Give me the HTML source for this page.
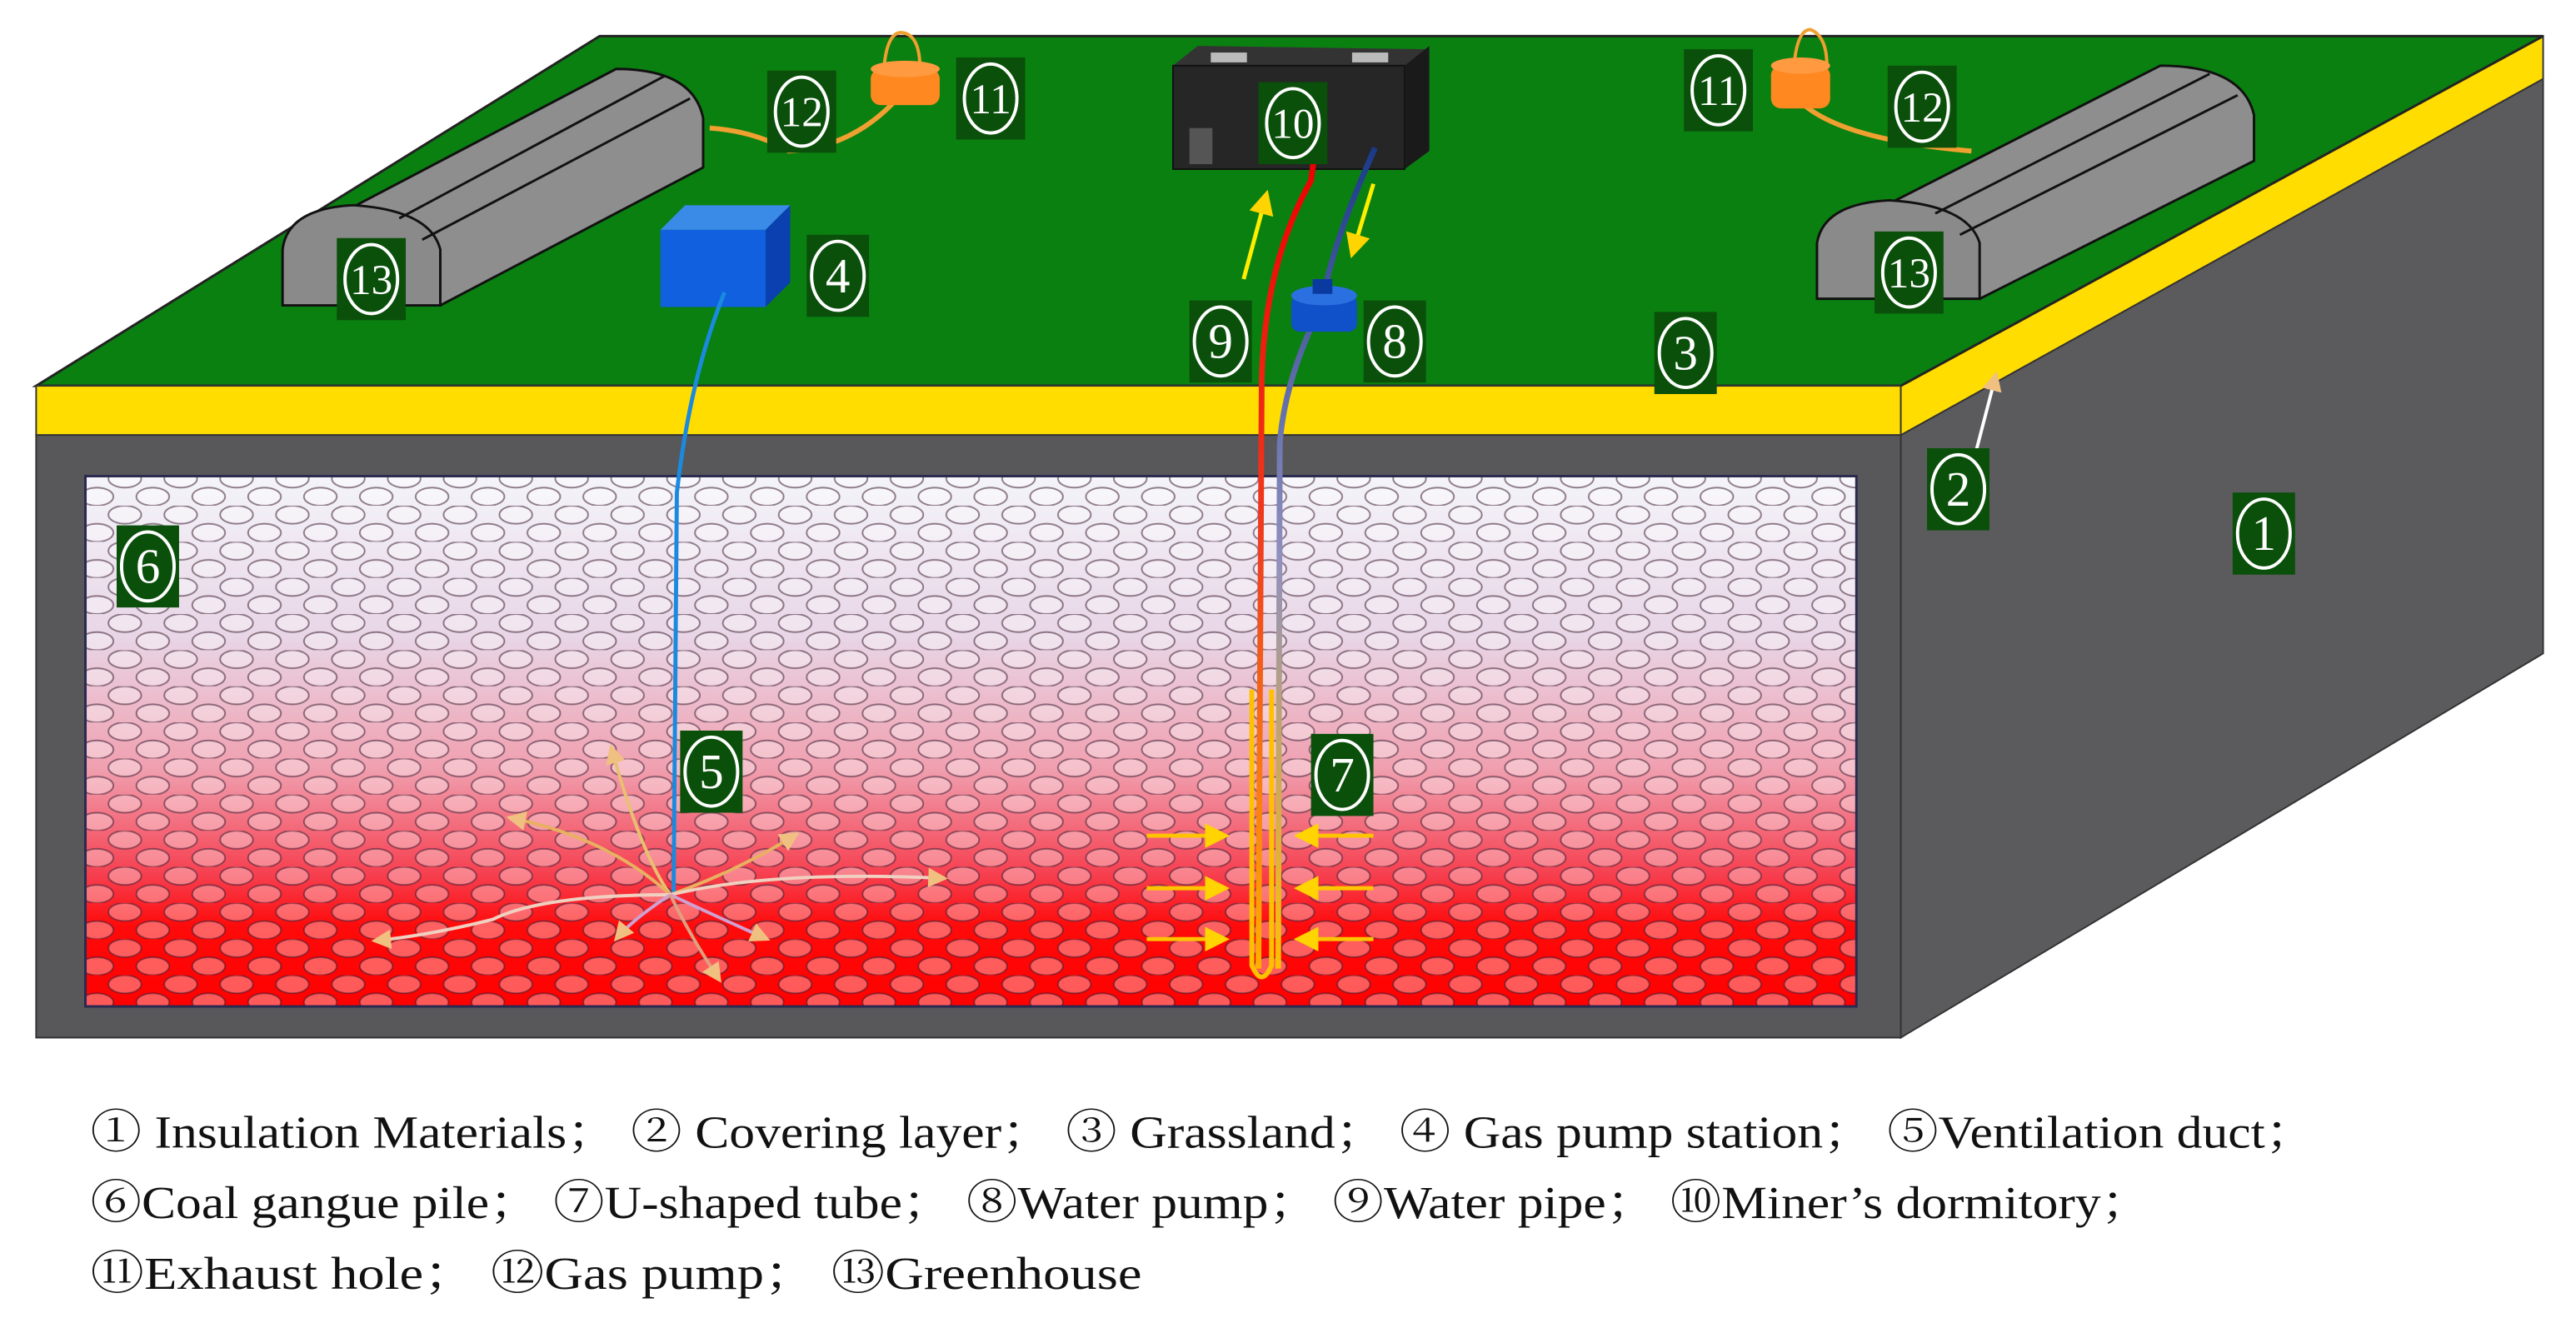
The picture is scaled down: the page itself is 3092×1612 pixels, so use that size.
<!DOCTYPE html>
<html><head><meta charset="utf-8"><style>
html,body{margin:0;padding:0;background:#fff;}
svg{display:block}
</style></head><body>
<svg width="3092" height="1612" viewBox="0 0 1568 818" preserveAspectRatio="none" xmlns="http://www.w3.org/2000/svg">
<defs>
<linearGradient id="heat" x1="0" y1="0" x2="0" y2="1">
<stop offset="0" stop-color="#f4f4fa"/>
<stop offset="0.3" stop-color="#e8d6e6"/>
<stop offset="0.55" stop-color="#f0a0b0"/>
<stop offset="0.75" stop-color="#f64050"/>
<stop offset="0.85" stop-color="#ff0a0a"/>
<stop offset="1" stop-color="#ff0000"/>
</linearGradient>
<pattern id="stones" width="34" height="22" patternUnits="userSpaceOnUse">
<ellipse cx="8" cy="5.5" rx="10" ry="5.5" fill="#fff" fill-opacity="0.35" stroke="#3a1a30" stroke-opacity="0.55" stroke-width="1"/>
<ellipse cx="25" cy="16.5" rx="10" ry="5.5" fill="#fff" fill-opacity="0.35" stroke="#3a1a30" stroke-opacity="0.55" stroke-width="1"/>
<ellipse cx="-9" cy="16.5" rx="10" ry="5.5" fill="#fff" fill-opacity="0.35" stroke="#3a1a30" stroke-opacity="0.55" stroke-width="1"/>
<ellipse cx="42" cy="5.5" rx="10" ry="5.5" fill="#fff" fill-opacity="0.35" stroke="#3a1a30" stroke-opacity="0.55" stroke-width="1"/>
</pattern>
<linearGradient id="redpipe" x1="0" y1="0" x2="0" y2="1">
<stop offset="0" stop-color="#e00"/><stop offset="0.5" stop-color="#f04020"/><stop offset="1" stop-color="#ffb000"/>
</linearGradient>
<linearGradient id="bluepipe" x1="0" y1="0" x2="0" y2="1">
<stop offset="0" stop-color="#1a3a8a"/><stop offset="0.5" stop-color="#9090c0"/><stop offset="1" stop-color="#ffc000"/>
</linearGradient>
<marker id="ya" markerWidth="6" markerHeight="6" refX="5" refY="3" orient="auto"><path d="M0,0 L6,3 L0,6 Z" fill="#ffd400"/></marker>
<marker id="oa" markerWidth="6" markerHeight="6" refX="5" refY="3" orient="auto"><path d="M0,0 L6,3 L0,6 Z" fill="#f0c080"/></marker>
</defs>
<polygon points="1157,265 1548,48 1548,398 1157,632" fill="#5b5b5d" stroke="#333" stroke-width="1"/>
<polygon points="1157,235 1548,22 1548,48 1157,265" fill="#ffdd00" stroke="#333" stroke-width="1"/>
<polygon points="22,235 365,22 1548,22 1157,235" fill="#0a8010" stroke="#222" stroke-width="1.5"/>
<rect x="22" y="235" width="1135" height="30" fill="#ffdd00" stroke="#333" stroke-width="1"/>
<rect x="22" y="265" width="1135" height="367" fill="#58585a" stroke="#333" stroke-width="1"/>
<rect x="52" y="290" width="1078" height="323" fill="url(#heat)"/>
<rect x="52" y="290" width="1078" height="323" fill="url(#stones)"/>
<rect x="52" y="290" width="1078" height="323" fill="none" stroke="#2a2a50" stroke-width="1.5"/>

<g stroke="#111" stroke-width="1.5">
<path d="M215,126 L375,42 Q422,42 428,72 L428,102 L268,186 Z" fill="#8e8e8e"/>
<path d="M172,186 L172,152 Q175,127 215,125 Q262,128 268,152 L268,186 Z" fill="#8a8a8a"/>
<line x1="243" y1="133" x2="405" y2="46"/>
<line x1="257" y1="146" x2="420" y2="60"/>
</g>
<g stroke="#111" stroke-width="1.5">
<path d="M1150,124 L1315,40 Q1365,40 1372,70 L1372,98 L1205,182 Z" fill="#8e8e8e"/>
<path d="M1106,182 L1106,148 Q1110,124 1150,122 Q1198,125 1205,148 L1205,182 Z" fill="#8a8a8a"/>
<line x1="1178" y1="130" x2="1345" y2="45"/>
<line x1="1193" y1="143" x2="1362" y2="58"/>
</g>
<polygon points="402,140 417,125 481,125 466,140" fill="#3a8ae8"/>
<polygon points="466,140 481,125 481,172 466,187" fill="#0a40b0"/>
<rect x="402" y="140" width="64" height="47" fill="#1060e0"/>
<path d="M441,178 Q420,230 412,300 L410,545" stroke="#1a8ae0" stroke-width="2.5" fill="none"/>
<polygon points="714,40 855,40 870,30 729,28" fill="#333"/>
<rect x="714" y="40" width="141" height="63" fill="#262626" stroke="#111"/>
<polygon points="855,40 870,28 870,92 855,103" fill="#1a1a1a"/>
<rect x="737" y="32" width="22" height="6" fill="#bbb"/>
<rect x="823" y="32" width="22" height="6" fill="#bbb"/>
<rect x="724" y="78" width="14" height="22" fill="#555"/>
<path d="M432,78 Q460,80 480,92 Q520,90 548,58" stroke="#f0a030" stroke-width="3" fill="none"/>
<path d="M538,42 Q540,18 550,20 Q560,22 560,42" stroke="#f0a030" stroke-width="2" fill="none"/>
<rect x="530" y="42" width="42" height="22" rx="6" fill="#ff8820"/>
<ellipse cx="551" cy="42" rx="21" ry="5" fill="#ff9a40"/>
<path d="M1096,62 Q1120,85 1200,92" stroke="#f0a030" stroke-width="3" fill="none"/>
<path d="M1092,40 Q1094,18 1102,18 Q1112,22 1112,40" stroke="#f0a030" stroke-width="2" fill="none"/>
<rect x="1078" y="40" width="36" height="26" rx="6" fill="#ff8820"/>
<ellipse cx="1096" cy="40" rx="18" ry="5" fill="#ff9a40"/>
<path d="M800,95 L798,110 Q770,160 768,230 L766,590" stroke="url(#redpipe)" stroke-width="3.5" fill="none"/>
<path d="M837,90 Q810,150 805,185 Q782,230 779,270 L778,590" stroke="url(#bluepipe)" stroke-width="3.5" fill="none"/>
<path d="M762,420 L762,588 Q768,602 774,588 L774,420" stroke="#ffc000" stroke-width="3" fill="none"/>
<rect x="786" y="180" width="40" height="22" rx="5" fill="#1050c8"/>
<ellipse cx="806" cy="180" rx="20" ry="6" fill="#2a70e0"/>
<rect x="799" y="170" width="12" height="9" fill="#0a3aa0"/>
<line x1="757" y1="170" x2="771" y2="118" stroke="#ffee00" stroke-width="2.5" marker-end="url(#ya)"/>
<line x1="836" y1="112" x2="823" y2="155" stroke="#ffee00" stroke-width="2.5" marker-end="url(#ya)"/>
<line x1="1202" y1="278" x2="1215" y2="228" stroke="#fff" stroke-width="2" marker-end="url(#oa)"/>
<g stroke="#ffc400" stroke-width="2.5" marker-end="url(#ya)">
<line x1="698" y1="509" x2="746" y2="509"/>
<line x1="698" y1="541" x2="746" y2="541"/>
<line x1="698" y1="572" x2="746" y2="572"/>
<line x1="836" y1="509" x2="790" y2="509"/>
<line x1="836" y1="541" x2="790" y2="541"/>
<line x1="836" y1="572" x2="790" y2="572"/>
</g>
<g stroke-width="2" fill="none" marker-end="url(#oa)">
<path d="M408,545 Q390,520 372,455" stroke="#e8c070"/>
<path d="M408,545 Q370,510 310,498" stroke="#e8b060"/>
<path d="M408,545 Q450,530 485,508" stroke="#e8b060"/>
<path d="M408,545 Q470,530 575,535" stroke="#f0d0c0"/>
<path d="M408,545 Q330,545 300,560 Q260,570 228,573" stroke="#f0d0c0"/>
<path d="M408,545 Q385,560 375,572" stroke="#d0a0d0"/>
<path d="M408,545 Q440,560 467,572" stroke="#d0a0d0"/>
<path d="M408,545 Q420,570 438,597" stroke="#e0a080"/>
</g>
<g font-family="Liberation Serif, serif" fill="#fff" text-anchor="middle">
<g transform="translate(488,68)"><rect x="-21" y="-25" width="42" height="50" fill="#0a4f0a"/><ellipse rx="16" ry="21" fill="none" stroke="#fff" stroke-width="2"/><text y="9" font-size="26">12</text></g>
<g transform="translate(603,60)"><rect x="-21" y="-25" width="42" height="50" fill="#0a4f0a"/><ellipse rx="16" ry="21" fill="none" stroke="#fff" stroke-width="2"/><text y="9" font-size="26">11</text></g>
<g transform="translate(787,75)"><rect x="-21" y="-25" width="42" height="50" fill="#0a4f0a"/><ellipse rx="16" ry="21" fill="none" stroke="#fff" stroke-width="2"/><text y="9" font-size="26">10</text></g>
<g transform="translate(1046,55)"><rect x="-21" y="-25" width="42" height="50" fill="#0a4f0a"/><ellipse rx="16" ry="21" fill="none" stroke="#fff" stroke-width="2"/><text y="9" font-size="26">11</text></g>
<g transform="translate(1170,65)"><rect x="-21" y="-25" width="42" height="50" fill="#0a4f0a"/><ellipse rx="16" ry="21" fill="none" stroke="#fff" stroke-width="2"/><text y="9" font-size="26">12</text></g>
<g transform="translate(226,170)"><rect x="-21" y="-25" width="42" height="50" fill="#0a4f0a"/><ellipse rx="16" ry="21" fill="none" stroke="#fff" stroke-width="2"/><text y="9" font-size="26">13</text></g>
<g transform="translate(1162,166)"><rect x="-21" y="-25" width="42" height="50" fill="#0a4f0a"/><ellipse rx="16" ry="21" fill="none" stroke="#fff" stroke-width="2"/><text y="9" font-size="26">13</text></g>
<g transform="translate(510,168)"><rect x="-19" y="-25" width="38" height="50" fill="#0a4f0a"/><ellipse rx="16" ry="21" fill="none" stroke="#fff" stroke-width="2"/><text y="10" font-size="30">4</text></g>
<g transform="translate(743,208)"><rect x="-19" y="-25" width="38" height="50" fill="#0a4f0a"/><ellipse rx="16" ry="21" fill="none" stroke="#fff" stroke-width="2"/><text y="10" font-size="30">9</text></g>
<g transform="translate(849,208)"><rect x="-19" y="-25" width="38" height="50" fill="#0a4f0a"/><ellipse rx="16" ry="21" fill="none" stroke="#fff" stroke-width="2"/><text y="10" font-size="30">8</text></g>
<g transform="translate(1026,215)"><rect x="-19" y="-25" width="38" height="50" fill="#0a4f0a"/><ellipse rx="16" ry="21" fill="none" stroke="#fff" stroke-width="2"/><text y="10" font-size="30">3</text></g>
<g transform="translate(1192,298)"><rect x="-19" y="-25" width="38" height="50" fill="#0a4f0a"/><ellipse rx="16" ry="21" fill="none" stroke="#fff" stroke-width="2"/><text y="10" font-size="30">2</text></g>
<g transform="translate(1378,325)"><rect x="-19" y="-25" width="38" height="50" fill="#0a4f0a"/><ellipse rx="16" ry="21" fill="none" stroke="#fff" stroke-width="2"/><text y="10" font-size="30">1</text></g>
<g transform="translate(90,345)"><rect x="-19" y="-25" width="38" height="50" fill="#0a4f0a"/><ellipse rx="16" ry="21" fill="none" stroke="#fff" stroke-width="2"/><text y="10" font-size="30">6</text></g>
<g transform="translate(433,470)"><rect x="-19" y="-25" width="38" height="50" fill="#0a4f0a"/><ellipse rx="16" ry="21" fill="none" stroke="#fff" stroke-width="2"/><text y="10" font-size="30">5</text></g>
<g transform="translate(817,472)"><rect x="-19" y="-25" width="38" height="50" fill="#0a4f0a"/><ellipse rx="16" ry="21" fill="none" stroke="#fff" stroke-width="2"/><text y="10" font-size="30">7</text></g>
</g>
<g font-family="Liberation Serif, 'Noto Serif CJK SC', serif" font-size="28" fill="#111">
<text x="55" y="699" textLength="1355" lengthAdjust="spacingAndGlyphs">① Insulation Materials； ② Covering layer； ③ Grassland； ④ Gas pump station； ⑤Ventilation duct；</text>
<text x="55" y="742" textLength="1255" lengthAdjust="spacingAndGlyphs">⑥Coal gangue pile； ⑦U-shaped tube； ⑧Water pump； ⑨Water pipe； ⑩Miner’s dormitory；</text>
<text x="55" y="785" textLength="640" lengthAdjust="spacingAndGlyphs">⑪Exhaust hole； ⑫Gas pump； ⑬Greenhouse</text>
</g>
</svg>
</body></html>
